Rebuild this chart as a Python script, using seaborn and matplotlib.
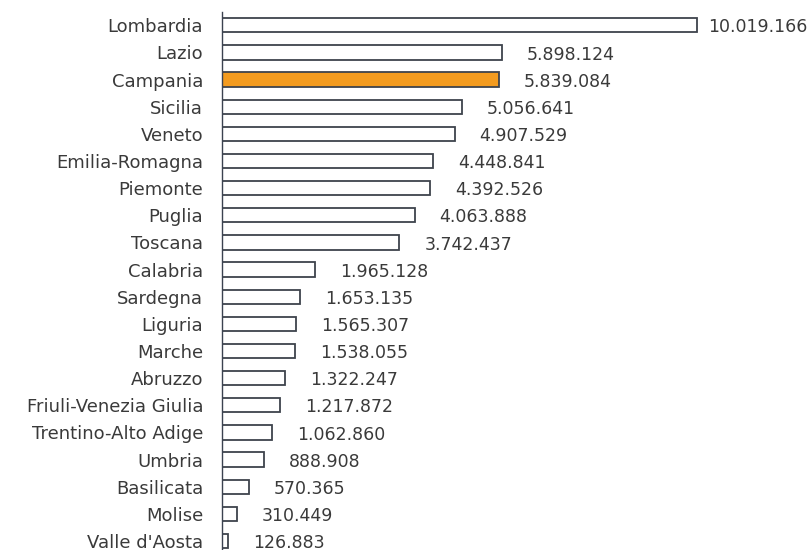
import matplotlib
matplotlib.use("Agg")
import matplotlib.pyplot as plt
import seaborn as sns
import pandas as pd

regions = ["Lombardia", "Lazio", "Campania", "Sicilia", "Veneto", "Emilia-Romagna",
           "Piemonte", "Puglia", "Toscana", "Calabria", "Sardegna", "Liguria",
           "Marche", "Abruzzo", "Friuli-Venezia Giulia", "Trentino-Alto Adige",
           "Umbria", "Basilicata", "Molise", "Valle d'Aosta"]
population = [10019166, 5898124, 5839084, 5056641, 4907529, 4448841,
              4392526, 4063888, 3742437, 1965128, 1653135, 1565307,
              1538055, 1322247, 1217872, 1062860, 888908, 570365, 310449, 126883]
labels = ["10.019.166", "5.898.124", "5.839.084", "5.056.641", "4.907.529", "4.448.841",
          "4.392.526", "4.063.888", "3.742.437", "1.965.128", "1.653.135", "1.565.307",
          "1.538.055", "1.322.247", "1.217.872", "1.062.860", "888.908", "570.365",
          "310.449", "126.883"]
highlight = "Campania"

df = pd.DataFrame({"region": regions, "population": population})

sns.set_style("white")
plt.rcParams["font.family"] = ["DejaVu Sans"]

W, H = 812, 550
fig = plt.figure(figsize=(W / 100, H / 100), dpi=100)
ax_left, ax_top, ax_bottom = 222, 11.7, 554.6
ax = fig.add_axes([ax_left / W, 1 - ax_bottom / H, (W - ax_left) / W, (ax_bottom - ax_top) / H])

palette = {r: ("#F39B1F" if r == highlight else "white") for r in regions}
sns.barplot(data=df, y="region", x="population", hue="region", palette=palette,
            legend=False, orient="h", width=0.53, edgecolor="#3e434c",
            linewidth=1.3, ax=ax, saturation=1)

ax.set_xlim(0, (W - ax_left) / 47.4 * 1e6)
ax.set_ylim(19.5, -0.5)
for s in ["top", "right", "bottom"]:
    ax.spines[s].set_visible(False)
ax.spines["left"].set_color("#3b4250")
ax.spines["left"].set_linewidth(1.0)
ax.set_xticks([])
ax.set_xlabel("")
ax.set_ylabel("")
ax.tick_params(axis="y", length=0, pad=13.5, labelsize=13, colors="#3a3a3a")

texts = []
for i, (v, t) in enumerate(zip(population, labels)):
    texts.append(ax.annotate(t, xy=(v, i), xytext=(18, -1.5), textcoords="offset points",
                             va="center", ha="left", fontsize=12.5, color="#3a3a3a"))

fig.canvas.draw()
renderer = fig.canvas.get_renderer()
for txt in texts:
    bb = txt.get_window_extent(renderer)
    over = bb.x1 - (W - 4)
    if over > 0:
        txt.xyann = (txt.xyann[0] - over * 72 / 100, txt.xyann[1])

fig.savefig("out.png", dpi=100)
